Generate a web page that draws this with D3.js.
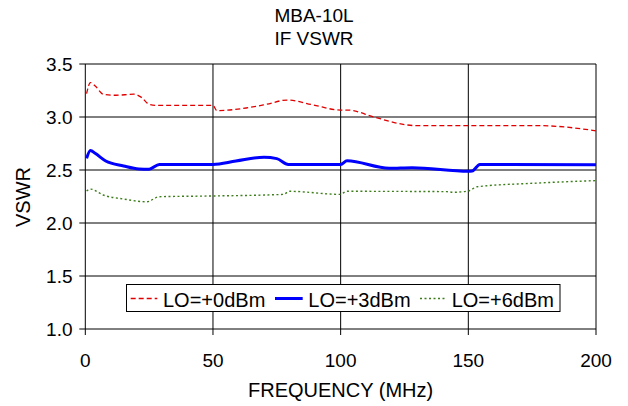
<!DOCTYPE html>
<html><head><meta charset="utf-8">
<script src="https://cdn.jsdelivr.net/npm/d3@7"></script>
<style>body{margin:0;background:#fff}svg{display:block}text{font-family:"Liberation Sans",Arial,sans-serif;fill:#000}</style>
</head><body><svg id="c" width="628" height="406"></svg>
<script>
const titleLines = ["MBA-10L", "IF VSWR"];
const xTicks = [0, 50, 100, 150, 200];
const yTicks = [1.0, 1.5, 2.0, 2.5, 3.0, 3.5];
const seriesNames = ["LO=+0dBm", "LO=+3dBm", "LO=+6dBm"];
const freq0 = [0.5, 2, 4, 7, 12, 19, 22, 25, 28, 50, 51.5, 63, 71, 79, 89, 100, 103, 113, 126, 130, 178, 200];
const vswr0 = [3.22, 3.325, 3.29, 3.215, 3.205, 3.215, 3.185, 3.12, 3.11, 3.11, 3.06, 3.085, 3.12, 3.16, 3.115, 3.065, 3.065, 3.0, 2.925, 2.918, 2.918, 2.87];
const freq3 = [0.5, 2, 4, 8, 15, 21, 25, 29, 50, 59, 70, 75, 79.5, 100, 102.5, 119, 128, 150, 151.5, 154.5, 200];
const vswr3 = [2.61, 2.685, 2.655, 2.585, 2.538, 2.51, 2.508, 2.553, 2.553, 2.585, 2.62, 2.607, 2.553, 2.552, 2.587, 2.516, 2.522, 2.488, 2.49, 2.552, 2.55];
const freq6 = [0.5, 2, 7, 15, 24, 29, 50, 77.5, 80, 99.7, 102.5, 141.5, 144, 150, 153.5, 175.5, 200];
const vswr6 = [2.302, 2.32, 2.264, 2.226, 2.2, 2.248, 2.255, 2.27, 2.299, 2.27, 2.299, 2.296, 2.29, 2.302, 2.342, 2.375, 2.4];

const svg = d3.select("#c");
const L = 85.3, R = 596, T = 64, B = 329;
const x = d3.scaleLinear().domain([0, 200]).range([L, R]);
const y = d3.scaleLinear().domain([1, 3.5]).range([B, T]);

// title
svg.append("text").attr("x", 314).attr("y", 21.5).attr("text-anchor", "middle").style("font-size", "19px").text(titleLines[0]);
svg.append("text").attr("x", 314).attr("y", 45).attr("text-anchor", "middle").style("font-size", "19px").text(titleLines[1]);

// grid
const g = svg.append("g");
g.selectAll(".hg").data(yTicks).join("line")
  .attr("x1", L - 6).attr("x2", R).attr("y1", d => y(d)).attr("y2", d => y(d))
  .attr("stroke", "#000").attr("stroke-width", 1);
g.selectAll(".vg").data(xTicks).join("line")
  .attr("y1", T).attr("y2", B + 6).attr("x1", d => x(d)).attr("x2", d => x(d))
  .attr("stroke", "#000").attr("stroke-width", 1);

// tick labels
svg.selectAll(".yl").data(yTicks).join("text")
  .attr("x", 72.5).attr("y", d => y(d) + 7).attr("text-anchor", "end")
  .style("font-size", "19px").text(d => d3.format(".1f")(d));
svg.selectAll(".xl").data(xTicks).join("text")
  .attr("x", d => x(d)).attr("y", 366.5).attr("text-anchor", "middle")
  .style("font-size", "19px").text(d => d);

// axis titles
svg.append("text").attr("x", 340.6).attr("y", 397.3).attr("text-anchor", "middle").style("font-size", "20px").text("FREQUENCY (MHz)");
svg.append("text").attr("transform", "translate(30,197) rotate(-90)").attr("text-anchor", "middle").style("font-size", "20px").text("VSWR");

// lines
const styles = [
  {color: "#e00000", w: 1.3, dash: "5,3"},
  {color: "#0000ff", w: 3, dash: null},
  {color: "#3c7d1a", w: 1.4, dash: "2,2.5"}
];
const data = [
  d3.zip(freq0, vswr0), d3.zip(freq3, vswr3), d3.zip(freq6, vswr6)
];
const line = d3.line().x(d => x(d[0])).y(d => y(d[1])).curve(d3.curveMonotoneX);
data.forEach((d, i) => {
  svg.append("path").attr("d", line(d)).attr("fill", "none")
    .attr("stroke", styles[i].color).attr("stroke-width", styles[i].w)
    .attr("stroke-dasharray", styles[i].dash);
});

// legend
const lg = svg.append("g");
lg.append("rect").attr("x", 126.5).attr("y", 284.5).attr("width", 433.5).attr("height", 27)
  .attr("fill", "#fff").attr("stroke", "#000").attr("stroke-width", 1);
const legX = [[130.7, 157.3, 163], [275, 302.7, 308.3], [420, 446, 451.7]];
legX.forEach((p, i) => {
  lg.append("line").attr("x1", p[0]).attr("x2", p[1]).attr("y1", 298.5).attr("y2", 298.5)
    .attr("stroke", styles[i].color).attr("stroke-width", styles[i].w)
    .attr("stroke-dasharray", styles[i].dash);
  lg.append("text").attr("x", p[2]).attr("y", 306.5).style("font-size", "20px").text(seriesNames[i]);
});
</script></body></html>
